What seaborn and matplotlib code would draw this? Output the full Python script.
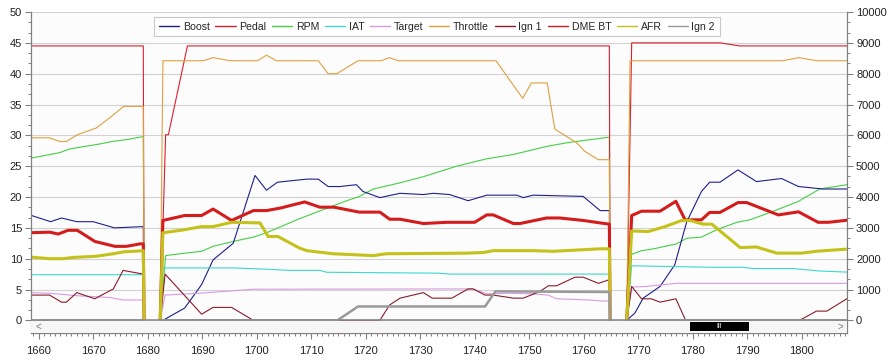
# Log de datalog - Boost / Pedal / RPM / IAT / ... (leitura do gráfico)

import numpy as np
import pandas as pd
import seaborn as sns
import matplotlib.pyplot as plt
from matplotlib.ticker import MultipleLocator, FixedLocator, FuncFormatter
from matplotlib.patches import Rectangle
from matplotlib.lines import Line2D


# Dados (eixo esquerdo, exceto RPM que está no eixo direito)
boost_x = [1658, 1662.2, 1664.2, 1667, 1670, 1673.9, 1679.2, 1679.35,
           1682.3, 1682.8, 1683.5, 1686.8, 1689.9, 1692, 1695.7, 1699.7, 1701.8, 1703.8, 1709.2, 1711.3,
           1713.1, 1715.3, 1718.3, 1719.5, 1722.6, 1726.3, 1730.6, 1732.4, 1735.4, 1738.8, 1742.2, 1747.7,
           1748.9, 1750.7, 1759.9, 1763, 1764.7, 1764.85,
           1767.9, 1769.4, 1770.9, 1774, 1776.7, 1778.9, 1781.6, 1783.1, 1785, 1788.3, 1791.7, 1796.3,
           1799.4, 1803.9, 1809]
boost_y = [17.2, 16.0, 16.6, 16.0, 16.0, 15.0, 15.2, 0,
           0, 0, 0.35, 2.0, 5.8, 9.8, 12.5, 23.5, 21.1, 22.4, 22.9, 22.9,
           21.7, 21.7, 22.0, 20.9, 19.9, 20.6, 20.4, 20.6, 20.4, 19.4, 20.3, 20.3,
           19.9, 20.3, 20.1, 17.8, 17.8, 0,
           0, 1.2, 3.6, 5.5, 9.0, 16.0, 20.9, 22.4, 22.4, 24.4, 22.5, 23.0,
           21.7, 21.3, 21.3]

pedal_x = [1658, 1679.2, 1679.35, 1682.3, 1683.3, 1683.8, 1687.3, 1764.7, 1764.85,
           1767.9, 1768.8, 1785, 1788.6, 1809]
pedal_y = [44.5, 44.5, 0, 0, 30.1, 30.1, 44.5, 44.5, 0,
           0, 45.0, 45.0, 44.5, 44.5]

rpm_x = [1658, 1663.9, 1665.7, 1671.2, 1673.4, 1676.1, 1679.2, 1679.35,
         1682.3, 1683.3, 1685.9, 1689.9, 1692, 1695.7, 1699.4, 1701.8, 1707.9, 1716.5, 1718.6, 1721.4,
         1726.3, 1730.6, 1736.7, 1742.2, 1747.1, 1753.2, 1756.9, 1761.1, 1764.7, 1764.85,
         1767.9, 1768.8, 1770.6, 1772.8, 1777, 1778.9, 1781.6, 1784.4, 1788.1, 1790.5, 1795.4, 1799.4,
         1803.3, 1809]
rpm_y = [5240, 5440, 5560, 5720, 5800, 5860, 5960, 0,
         0, 2100, 2160, 2240, 2400, 2560, 2700, 2840, 3300, 3880, 4000, 4260,
         4460, 4660, 5000, 5240, 5380, 5640, 5760, 5860, 5940, 0,
         0, 2140, 2260, 2320, 2480, 2660, 2700, 2940, 3180, 3260, 3580, 3860,
         4260, 4420]

iat_x = [1658, 1679.2, 1679.35, 1682.3, 1682.8, 1695.7, 1701.8, 1706.1, 1711.6, 1712.8, 1733.4, 1735.4,
         1764.7, 1764.85, 1767.9, 1768.8, 1783.8, 1789.3, 1791.1, 1798.4, 1803.3, 1809]
iat_y = [7.4, 7.4, 0, 0, 8.5, 8.5, 8.3, 8.1, 8.1, 7.8, 7.65, 7.5,
         7.5, 0, 0, 8.85, 8.6, 8.6, 8.4, 8.4, 8.0, 7.8]

target_x = [1658, 1662, 1667, 1673.1, 1675.5, 1679.2, 1679.35, 1682.3, 1683.2, 1689.6, 1695.7, 1699.4,
            1739.7, 1742.2, 1745.8, 1750.7, 1753.5, 1755, 1761.1, 1763.9, 1764.7, 1764.85,
            1767.9, 1768.8, 1771.5, 1777, 1809]
target_y = [4.5, 4.4, 4.0, 3.7, 3.3, 3.3, 0, 0, 4.1, 4.4, 4.8, 5.05,
            5.1, 4.3, 4.4, 4.3, 4.1, 3.5, 3.3, 3.1, 3.2, 0,
            0, 5.4, 5.5, 6.0, 6.0]

throttle_x = [1658, 1662, 1663.9, 1665.1, 1667.1, 1670.6, 1673.4, 1675.6, 1679.2, 1679.35,
              1682.3, 1682.8, 1690.2, 1692, 1695.1, 1700.2, 1701.8, 1703.6, 1711.3, 1713.1, 1714.7,
              1718.6, 1722.9, 1724.3, 1726, 1743.9, 1748.8, 1750.4, 1753.3, 1754.7, 1758.7, 1760.2,
              1762.7, 1764.7, 1764.85,
              1767.9, 1768.5, 1796.5, 1799.5, 1802.7, 1809]
throttle_y = [29.6, 29.6, 29.0, 29.0, 30.1, 31.2, 33.1, 34.7, 34.7, 0,
              0, 42.1, 42.1, 42.6, 42.1, 42.1, 43.0, 42.1, 42.1, 40.0, 40.0,
              42.1, 42.1, 42.6, 42.1, 42.1, 36.0, 38.5, 38.5, 31.0, 28.8, 27.4,
              26.05, 26.05, 0,
              0, 42.1, 42.1, 42.6, 42.1, 42.1]

ign1_x = [1658, 1662, 1664.2, 1665.1, 1667, 1670.3, 1673.7, 1675.5, 1679.2, 1679.35,
          1682.3, 1683.2, 1689.9, 1692, 1695.4, 1699.4, 1722.6, 1724.4, 1726.3, 1730.6, 1732.2,
          1735.8, 1738.8, 1739.7, 1741.9, 1743.4, 1747.1, 1748.9, 1752, 1753.5, 1755, 1758.4,
          1759.9, 1762.7, 1764.7, 1764.85,
          1767.9, 1768.8, 1770.6, 1772.4, 1774, 1776.9, 1778.7, 1799.6, 1802.7, 1804.6, 1809]
ign1_y = [4.1, 4.1, 2.95, 2.95, 4.5, 3.5, 5.1, 8.1, 7.5, 0,
          0, 7.5, 1.0, 2.1, 2.1, 0, 0, 2.5, 3.6, 4.5, 3.6,
          3.6, 5.1, 5.1, 4.1, 4.1, 3.6, 3.6, 4.7, 5.6, 5.6, 7.0,
          7.0, 6.0, 6.6, 0,
          0, 5.5, 3.5, 3.5, 2.95, 3.5, 0, 0, 1.5, 1.5, 3.9]

dme_x = [1658, 1662, 1663.6, 1665.4, 1667.1, 1670.3, 1674, 1676.1, 1678.6, 1679.2, 1679.35,
         1682.3, 1682.8, 1686.8, 1689.9, 1692, 1695.4, 1699.4, 1701.8, 1704.3, 1708.8, 1711.6,
         1714.2, 1718.8, 1722.6, 1724.4, 1726.3, 1730.6, 1734.8, 1740, 1742.2, 1743.4, 1747.1,
         1748.3, 1753.2, 1755.6, 1759.9, 1763, 1764.7, 1764.85,
         1767.9, 1768.8, 1770.6, 1774, 1776.9, 1778.6, 1781.6, 1783.1, 1785, 1788.3, 1789.9,
         1795.7, 1799.4, 1803, 1804.9, 1809]
dme_y = [14.2, 14.3, 14.0, 14.6, 14.6, 12.8, 12.0, 12.0, 12.4, 12.4, 0,
         0, 16.2, 17.0, 17.0, 18.05, 16.2, 17.8, 17.8, 18.2, 19.2, 18.35,
         18.35, 17.55, 17.55, 16.4, 16.4, 15.7, 15.9, 15.9, 17.1, 17.1, 15.7,
         15.7, 16.6, 16.6, 16.2, 15.8, 15.6, 0,
         0, 17.0, 17.7, 17.7, 19.3, 16.3, 16.3, 17.5, 17.5, 19.1, 19.1,
         17.1, 17.6, 15.9, 15.9, 16.3]

afr_x = [1658, 1662, 1664.5, 1666.3, 1670.6, 1673.7, 1675.5, 1679.2, 1679.35,
         1682.3, 1682.8, 1686.8, 1689.9, 1692, 1695.4, 1700.6, 1702.1, 1703.9, 1707.9, 1709.2, 1714,
         1721.4, 1723.8, 1738.5, 1741.6, 1743.4, 1750.7, 1754.4, 1763, 1764.7, 1764.85,
         1767.9, 1768.8, 1771.8, 1774.9, 1778, 1779.5, 1781.9, 1783.5, 1788.7, 1791.7, 1795.4, 1800,
         1802.7, 1809]
afr_y = [10.3, 10.0, 10.0, 10.2, 10.4, 10.8, 11.1, 11.3, 0,
         0, 14.2, 14.7, 15.2, 15.2, 15.9, 15.8, 13.6, 13.6, 11.7, 11.3, 10.8,
         10.5, 10.8, 10.9, 11.0, 11.3, 11.3, 11.2, 11.6, 11.6, 0,
         0, 14.5, 14.4, 15.2, 16.2, 16.2, 15.6, 15.6, 11.8, 11.9, 10.9, 10.9,
         11.2, 11.6]

ign2_x = [1658, 1679.2, 1682.3, 1714.8, 1718.6, 1741.9, 1743.8, 1764.7, 1764.85, 1767.9, 1809]
ign2_y = [0, 0, 0, 0, 2.25, 2.25, 4.7, 4.6, 0, 0, 0]

# limites das interrupções do log (fim de cada trecho gravado)
quebras_log = [1681, 1766]


# Estilo
sns.set_theme(style="white")
plt.rcParams['font.family'] = ['Liberation Sans', 'DejaVu Sans']

fig = plt.figure(figsize=(8.94, 3.62), dpi=100)
ax = fig.add_axes([31 / 894, 29 / 362, 816 / 894, 321 / 362])
ax2 = ax.twinx()
ax.set_zorder(ax2.get_zorder() + 1)
ax.patch.set_visible(False)
ax2.patch.set_visible(True)
ax2.set_facecolor('#fcfcfc')

# (nome, x, y, cor, espessura, eixo)
series = [
    ('Boost', boost_x, boost_y, '#1f1f8c', 0.8, ax),
    ('Pedal', pedal_x, pedal_y, '#dc1f2e', 0.8, ax),
    ('RPM', rpm_x, rpm_y, '#44d044', 0.8, ax2),
    ('IAT', iat_x, iat_y, '#3cd8cc', 0.8, ax),
    ('Target', target_x, target_y, '#d99be0', 0.8, ax),
    ('Throttle', throttle_x, throttle_y, '#e0a040', 0.8, ax),
    ('Ign 1', ign1_x, ign1_y, '#8b1c2c', 0.8, ax),
    ('DME BT', dme_x, dme_y, '#d41c1c', 2.2, ax),
    ('AFR', afr_x, afr_y, '#c4c21a', 2.2, ax),
    ('Ign 2', ign2_x, ign2_y, '#9a9a9a', 1.8, ax),
]

for nome, xs, ys, cor, lw, eixo in series:
    df = pd.DataFrame({'x': xs, 'y': ys})
    df['trecho'] = np.searchsorted(quebras_log, df['x'])
    sns.lineplot(data=df, x='x', y='y', units='trecho', ax=eixo, color=cor, linewidth=lw,
                 estimator=None, sort=False, legend=False)

# Eixos
ax.set_xlim(1658.6, 1808.3)
ax.set_ylim(-2.05, 50)
ax2.set_ylim(-410, 10000)

ax.xaxis.set_major_locator(MultipleLocator(10))
ax.xaxis.set_minor_locator(MultipleLocator(1))
ax.xaxis.set_major_formatter(FuncFormatter(lambda v, p: f'{v:.0f}'))

ax.yaxis.set_major_locator(FixedLocator(np.arange(0, 51, 5)))
ax.yaxis.set_minor_locator(FixedLocator([v for v in np.arange(0, 50.01, 5 / 3) if v % 5 > 0.01]))
ax2.yaxis.set_major_locator(FixedLocator(np.arange(0, 10001, 1000)))
ax2.yaxis.set_minor_locator(FixedLocator([v for v in np.arange(0, 10000.1, 1000 / 3) if v % 1000 > 1]))
ax2.yaxis.set_major_formatter(FuncFormatter(lambda v, p: f'{v:.0f}'))

ax2.yaxis.grid(True, color='#d2d2d2', linewidth=0.8)
ax2.set_axisbelow(True)
ax.grid(False)

for s in ['top', 'right']:
    ax.spines[s].set_visible(False)
for s in ['top', 'left', 'bottom']:
    ax2.spines[s].set_visible(False)
for sp in [ax.spines['left'], ax.spines['bottom'], ax2.spines['right']]:
    sp.set_color('#808080')
    sp.set_linewidth(0.9)

for a in [ax, ax2]:
    a.tick_params(which='major', direction='out', length=4.5, width=0.8, color='#808080',
                  labelsize=8, labelcolor='#222222', pad=2)
    a.tick_params(which='minor', direction='out', length=2.5, width=0.7, color='#808080')
ax.tick_params(axis='x', which='major', pad=5)
ax.tick_params(left=True, bottom=True, which='both')
ax2.tick_params(right=True, which='both')
ax.set_xlabel('')
ax.set_ylabel('')
ax2.set_ylabel('')

# Barra de rolagem (decoração da janela original)
ax.add_patch(Rectangle((0, 0), 1, 0.0385, transform=ax.transAxes, facecolor='#f6f6f6',
                       edgecolor='none', zorder=5))
ax.axhline(0, color='#8c8c8c', linewidth=1.2, zorder=6)
ax.add_patch(Rectangle((0.8076, 0.0062), 0.0723, 0.029, transform=ax.transAxes,
                       facecolor='black', edgecolor='none', zorder=7))
ax.text(0.8438, 0.021, 'III', transform=ax.transAxes, color='white', fontsize=5,
        ha='center', va='center', zorder=8)
ax.text(0.005, 0.019, '<', transform=ax.transAxes, color='#777777', fontsize=7,
        ha='left', va='center', zorder=8)
ax.text(0.995, 0.019, '>', transform=ax.transAxes, color='#777777', fontsize=7,
        ha='right', va='center', zorder=8)

# Legenda
handles = [Line2D([], [], color=cor, linewidth=1.0) for _, _, _, cor, _, _ in series]
labels = [nome for nome, *_ in series]
leg = ax.legend(handles, labels, loc='upper center', bbox_to_anchor=(0.4975, 0.985), ncol=10,
                frameon=True, fancybox=False, edgecolor='#c8c8c8', facecolor='white', framealpha=1,
                fontsize=7.6, handlelength=1.9, handletextpad=0.35, columnspacing=0.55,
                borderpad=0.45, borderaxespad=0)
leg.get_frame().set_linewidth(0.8)
leg.set_zorder(10)

plt.savefig('out.png', dpi=100)
